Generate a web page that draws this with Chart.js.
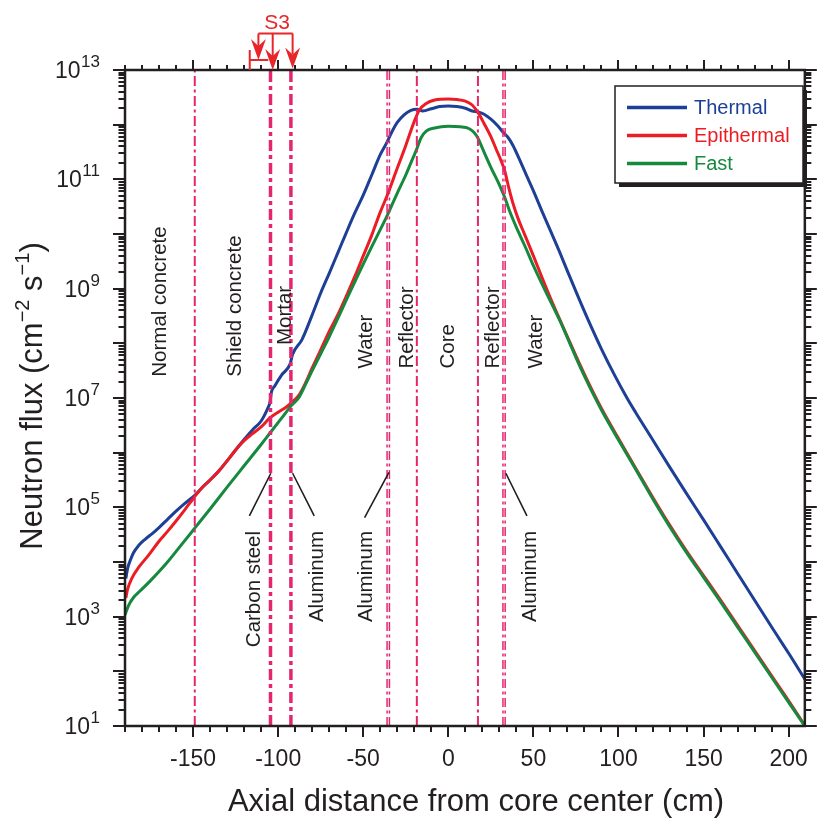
<!DOCTYPE html>
<html>
<head>
<meta charset="utf-8">
<script src="https://cdn.jsdelivr.net/npm/chart.js@4.4.1/dist/chart.umd.min.js"></script>
<style>
  html, body { margin: 0; padding: 0; background: #fff; }
  #wrap { width: 828px; height: 818px; }
</style>
</head>
<body>
<div id="wrap"><canvas id="fluxChart" width="828" height="818"></canvas></div>
<script>
// axial distance (cm) and neutron flux (cm^-2 s^-1)
const thermalX = [-189.5, -188.5, -187, -185, -182, -178, -174, -170, -165, -160, -155, -149, -145, -140, -135, -130, -125, -120, -115, -110, -106, -104.8, -104, -102, -98, -93, -91.5, -86, -80, -75, -70, -65, -60, -55, -50, -45, -40, -36, -33, -30, -26, -22, -18.5, -15, -10, -5, 0, 5, 10, 14, 17.5, 21, 25, 29, 32.5, 35, 38, 42, 46, 50, 55, 60, 65, 70, 77, 84, 91, 98, 105, 110, 120, 130, 140, 150, 160, 170, 180, 190, 200, 209.5];
const thermalFlux = [5.0e3, 7.59e3, 1.05e4, 1.48e4, 2.0e4, 2.63e4, 3.31e4, 4.27e4, 6.03e4, 8.51e4, 1.17e5, 1.66e5, 2.24e5, 3.16e5, 4.57e5, 7.08e5, 1.12e6, 1.74e6, 2.63e6, 3.8e6, 6.61e6, 8.32e6, 1.26e7, 1.66e7, 2.63e7, 4.17e7, 6.31e7, 1.17e8, 3.31e8, 8.32e8, 1.91e9, 4.47e9, 1.05e10, 2.4e10, 5.13e10, 1.2e11, 2.82e11, 4.79e11, 7.59e11, 1.1e12, 1.51e12, 1.82e12, 1.91e12, 1.78e12, 1.95e12, 2.14e12, 2.19e12, 2.14e12, 2.0e12, 1.78e12, 1.7e12, 1.55e12, 1.26e12, 9.55e11, 7.08e11, 5.89e11, 4.17e11, 2.24e11, 1.17e11, 6.17e10, 2.63e10, 1.15e10, 5.01e9, 2.09e9, 6.31e8, 2.0e8, 6.76e7, 2.51e7, 1.0e7, 5.5e6, 1.74e6, 5.5e5, 1.78e5, 5.89e4, 1.91e4, 6.17e3, 2.0e3, 646, 214, 72];

const epiX = [-189.5, -188.5, -186, -182, -176, -170, -165, -160, -155, -149, -145, -140, -135, -130, -125, -120, -115, -110, -105, -100, -95, -92, -88, -84, -80, -75, -70, -65, -60, -55, -50, -45, -40, -36, -31, -25, -20, -17, -13, -8, 0, 5, 10, 14, 17.5, 21, 25, 28, 31, 33, 35.5, 38, 41, 45, 50, 55, 60, 65, 70, 75, 80, 85, 90, 95, 100, 110, 120, 130, 140, 150, 160, 170, 180, 190, 200, 209.5];
const epiFlux = [2.19e3, 3.16e3, 5.01e3, 7.94e3, 1.35e4, 2.4e4, 3.63e4, 5.62e4, 8.91e4, 1.58e5, 2.24e5, 3.16e5, 4.57e5, 7.08e5, 1.12e6, 1.66e6, 2.24e6, 2.95e6, 4.27e6, 5.5e6, 6.92e6, 8.32e6, 1.1e7, 1.86e7, 3.55e7, 7.59e7, 1.66e8, 3.31e8, 7.24e8, 1.66e9, 3.98e9, 9.55e9, 2.51e10, 5.01e10, 1.32e11, 4.17e11, 1.15e12, 1.86e12, 2.45e12, 2.82e12, 2.95e12, 2.88e12, 2.69e12, 2.29e12, 1.66e12, 1.05e12, 6.03e11, 3.63e11, 2.19e11, 1.48e11, 7.08e10, 3.63e10, 1.91e10, 9.55e9, 3.98e9, 1.62e9, 6.76e8, 2.95e8, 1.32e8, 5.89e7, 2.69e7, 1.29e7, 6.46e6, 3.39e6, 1.82e6, 5.25e5, 1.55e5, 4.79e4, 1.58e4, 5.62e3, 2.0e3, 692, 240, 83, 29, 10.2];

const fastX = [-190, -188, -185, -181.5, -175, -165, -157, -149, -140, -130, -120, -110, -105, -98, -92, -88, -85, -80, -75, -70, -65, -60, -55, -50, -45, -40, -36, -30, -25, -22, -19, -16, -13, -8, 0, 7, 12, 15, 17.5, 20, 25, 30, 33, 36, 40, 45, 50, 57, 65, 70, 75, 80, 85, 90, 95, 100, 110, 120, 130, 140, 150, 160, 170, 180, 190, 200, 209.5];
const fastFlux = [1.07e3, 1.58e3, 2.24e3, 2.88e3, 4.57e3, 1.0e4, 2.04e4, 4.17e4, 9.33e4, 2.34e5, 5.75e5, 1.41e6, 2.24e6, 4.27e6, 7.41e6, 1.0e7, 1.51e7, 3.16e7, 6.46e7, 1.32e8, 2.82e8, 6.17e8, 1.32e9, 2.82e9, 5.89e9, 1.2e10, 2.14e10, 5.62e10, 1.2e11, 2.0e11, 3.31e11, 5.75e11, 7.59e11, 8.71e11, 9.33e11, 9.12e11, 8.51e11, 7.24e11, 5.62e11, 3.72e11, 1.66e11, 7.94e10, 4.79e10, 2.63e10, 1.32e10, 6.03e9, 2.63e9, 9.12e8, 2.82e8, 1.26e8, 5.5e7, 2.51e7, 1.2e7, 6.03e6, 3.16e6, 1.7e6, 5.01e5, 1.45e5, 4.47e4, 1.48e4, 5.25e3, 1.86e3, 646, 224, 78, 27, 10];

const seriesNames = ['Thermal', 'Epithermal', 'Fast'];

// material boundaries (cm)
const boundaryX = [-149, -104.5, -92.5, -36, -34.6, -18.5, 17.4, 32.1, 33.4];

const xTickValues = [-150, -100, -50, 0, 50, 100, 150, 200];
const yTickValues = [1e1, 1e3, 1e5, 1e7, 1e9, 1e11, 1e13];

const regionNames = ['Normal concrete', 'Shield concrete', 'Mortar', 'Water', 'Reflector', 'Core', 'Reflector', 'Water'];
const layerNames = ['Carbon steel', 'Aluminum', 'Aluminum', 'Aluminum'];

// ---- styling / placement ----
const FONT = '"Liberation Sans", Arial, Helvetica, sans-serif';
const INK = '#231f20';
const PINK = '#e5266d';
const S3_RED = '#e8262a';
const seriesColors = ['#1d3f96', '#ec1c24', '#15893e'];
const seriesOrder = [3, 2, 1]; // fast on top, thermal underneath

const boundaryStyles = [
  { w: 2, dash: [10, 3.5, 3, 3.5] },
  { w: 3.5, dash: [11, 4, 4, 4] },
  { w: 3.5, dash: [11, 4, 4, 4] },
  { w: 1.5, dash: [9, 3.5, 3, 3.5] },
  { w: 1.5, dash: [9, 3.5, 3, 3.5] },
  { w: 2, dash: [10, 3.5, 3, 3.5] },
  { w: 2, dash: [10, 3.5, 3, 3.5] },
  { w: 1.5, dash: [9, 3.5, 3, 3.5] },
  { w: 1.5, dash: [9, 3.5, 3, 3.5] },
];

// label anchors: baseline x (cm), start of text (flux) - text reads bottom to top
const regionAnchors = [
  { x: -165.9, y: 2.45e7 }, { x: -122.1, y: 2.45e7 }, { x: -92.7, y: 9.3e7 },
  { x: -45.0, y: 3.47e7 }, { x: -20.9, y: 3.47e7 }, { x: 3.1, y: 3.47e7 },
  { x: 29.6, y: 3.47e7 }, { x: 55.2, y: 3.47e7 },
];
// for the lower labels the anchor is where the text ends (its top)
const layerAnchors = [
  { x: -110.6, y: 3.7e4 }, { x: -73.4, y: 3.7e4 }, { x: -44.8, y: 3.7e4 }, { x: 51.6, y: 3.7e4 },
];
const pointerLines = [
  [-104.3, 4.2e5, -116.9, 6.95e4],
  [-91.5, 4.2e5, -78.8, 6.95e4],
  [-34.9, 4.37e5, -49.2, 6.45e4],
  [33.8, 4.2e5, 46.2, 6.95e4],
];

function toPoints(xs, ys) {
  return xs.map((x, i) => ({ x: x, y: ys[i] }));
}

const boundarySets = boundaryX.map((bx, i) => ({
  label: 'boundary' + i,
  data: [{ x: bx, y: 10 }, { x: bx, y: 1e13 }],
  borderColor: PINK,
  borderWidth: boundaryStyles[i].w,
  borderDash: boundaryStyles[i].dash,
  pointRadius: 0,
  tension: 0,
  fill: false,
  order: 0,
}));

const curveSets = [
  toPoints(thermalX, thermalFlux),
  toPoints(epiX, epiFlux),
  toPoints(fastX, fastFlux),
].map((pts, i) => ({
  label: seriesNames[i],
  data: pts,
  borderColor: seriesColors[i],
  borderWidth: 3,
  pointRadius: 0,
  cubicInterpolationMode: 'monotone',
  fill: false,
  order: seriesOrder[i],
}));

function drawRotated(ctx, text, px, py, align) {
  ctx.save();
  ctx.translate(px, py);
  ctx.rotate(-Math.PI / 2);
  ctx.textAlign = align;
  ctx.textBaseline = 'alphabetic';
  ctx.fillText(text, 0, 0);
  ctx.restore();
}

function arrowDown(ctx, tx, ty) {
  ctx.beginPath();
  ctx.moveTo(tx, ty);
  ctx.lineTo(tx - 7.5, ty - 21);
  ctx.lineTo(tx, ty - 14);
  ctx.lineTo(tx + 7.5, ty - 21);
  ctx.closePath();
  ctx.fill();
}

const decorPlugin = {
  id: 'decor',
  afterDraw(chart) {
    const { ctx, chartArea: a, scales: { x, y } } = chart;
    ctx.save();

    // frame
    ctx.strokeStyle = INK;
    ctx.lineWidth = 2.5;
    ctx.strokeRect(a.left, a.top, a.right - a.left, a.bottom - a.top);

    // tick marks, outward on all four sides
    ctx.lineWidth = 2;
    ctx.beginPath();
    for (let v = -190; v <= 209.5; v += 10) {
      const px = Math.round(x.getPixelForValue(v));
      const major = v % 50 === 0;
      ctx.moveTo(px, a.bottom); ctx.lineTo(px, a.bottom + (major ? 11 : 6));
      ctx.moveTo(px, a.top); ctx.lineTo(px, a.top - (major ? 10 : 5));
    }
    for (let e = 1; e <= 13; e++) {
      for (let m = 1; m <= 9; m++) {
        if (e === 13 && m > 1) break;
        const py = Math.round(y.getPixelForValue(m * Math.pow(10, e)));
        const len = m === 1 ? 12 : 6.5;
        ctx.moveTo(a.left, py); ctx.lineTo(a.left - len, py);
        ctx.moveTo(a.right, py); ctx.lineTo(a.right + len, py);
      }
    }
    ctx.stroke();

    // y tick labels 10^n
    ctx.fillStyle = INK;
    ctx.textBaseline = 'alphabetic';
    yTickValues.forEach(v => {
      const py = y.getPixelForValue(v);
      const exp = String(Math.round(Math.log10(v)));
      ctx.font = '17px ' + FONT;
      const ew = ctx.measureText(exp).width;
      ctx.textAlign = 'right';
      ctx.fillText(exp, 100, py - 3);
      ctx.font = '23px ' + FONT;
      ctx.fillText('10', 100 - ew - 0.5, py + 8);
    });

    // axis titles
    ctx.font = '31px ' + FONT;
    ctx.textAlign = 'center';
    ctx.fillText('Axial distance from core center (cm)', 476, 811);

    ctx.save();
    ctx.translate(42, 396);
    ctx.rotate(-Math.PI / 2);
    const runs = [['Neutron flux (cm', false], ['\u22122', true], [' s', false], ['\u22121', true], [')', false]];
    let total = 0;
    runs.forEach(r => {
      ctx.font = (r[1] ? '20px ' : '31px ') + FONT;
      total += ctx.measureText(r[0]).width;
    });
    let cx = -total / 2;
    ctx.textAlign = 'left';
    runs.forEach(r => {
      ctx.font = (r[1] ? '20px ' : '31px ') + FONT;
      ctx.fillText(r[0], cx, r[1] ? -13 : 0);
      cx += ctx.measureText(r[0]).width;
    });
    ctx.restore();

    // region labels
    ctx.font = '20.5px ' + FONT;
    ctx.fillStyle = INK;
    regionNames.forEach((t, i) => {
      const p = regionAnchors[i];
      drawRotated(ctx, t, x.getPixelForValue(p.x), y.getPixelForValue(p.y), 'left');
    });
    layerNames.forEach((t, i) => {
      const p = layerAnchors[i];
      drawRotated(ctx, t, x.getPixelForValue(p.x), y.getPixelForValue(p.y), 'right');
    });
    ctx.strokeStyle = INK;
    ctx.lineWidth = 1.6;
    ctx.beginPath();
    pointerLines.forEach(l => {
      ctx.moveTo(x.getPixelForValue(l[0]), y.getPixelForValue(l[1]));
      ctx.lineTo(x.getPixelForValue(l[2]), y.getPixelForValue(l[3]));
    });
    ctx.stroke();

    // legend box with drop shadow
    const lx = 615, ly = 86, lw = 188, lh = 97;
    ctx.fillStyle = INK;
    ctx.fillRect(lx + 4, ly + 4, lw, lh);
    ctx.fillStyle = '#fff';
    ctx.fillRect(lx, ly, lw, lh);
    ctx.strokeStyle = INK;
    ctx.lineWidth = 1.5;
    ctx.strokeRect(lx, ly, lw, lh);
    ctx.font = '20px ' + FONT;
    ctx.textAlign = 'left';
    ctx.textBaseline = 'middle';
    seriesNames.forEach((n, i) => {
      const ry = 107.5 + i * 28;
      ctx.strokeStyle = seriesColors[i];
      ctx.lineWidth = 3.5;
      ctx.beginPath();
      ctx.moveTo(627, ry); ctx.lineTo(687, ry);
      ctx.stroke();
      ctx.fillStyle = seriesColors[i];
      ctx.fillText(n, 694, ry + 1);
    });

    // S3 marker above the frame
    const sx = v => x.getPixelForValue(v);
    ctx.fillStyle = S3_RED;
    ctx.strokeStyle = S3_RED;
    ctx.font = '21px ' + FONT;
    ctx.textAlign = 'center';
    ctx.textBaseline = 'alphabetic';
    ctx.fillText('S3', 277, 28.5);
    ctx.lineWidth = 2;
    const bL = sx(-111.6), bM = sx(-103.2), bR = sx(-91.5);
    ctx.beginPath();
    ctx.moveTo(bL, 33.5); ctx.lineTo(bR, 33.5);
    ctx.moveTo(bL, 33.5); ctx.lineTo(bL, 46);
    ctx.moveTo(bM, 33.5); ctx.lineTo(bM, 56);
    ctx.moveTo(bR, 33.5); ctx.lineTo(bR, 54);
    ctx.moveTo(sx(-116.7), 50); ctx.lineTo(sx(-116.7), 70);
    ctx.moveTo(sx(-116.7), 60); ctx.lineTo(sx(-105.8), 60);
    ctx.stroke();
    arrowDown(ctx, bL, 60);
    arrowDown(ctx, bM, 70);
    arrowDown(ctx, bR, 68.5);

    ctx.restore();
  },
};

new Chart(document.getElementById('fluxChart'), {
  type: 'line',
  data: { datasets: boundarySets.concat(curveSets) },
  options: {
    responsive: false,
    devicePixelRatio: 1,
    animation: false,
    layout: { padding: { top: 70, right: 6, left: 0, bottom: 0 } },
    plugins: { legend: { display: false }, tooltip: { enabled: false } },
    scales: {
      x: {
        type: 'linear',
        min: -190,
        max: 209.5,
        grid: { display: false, drawTicks: false },
        border: { display: false },
        ticks: {
          color: INK,
          font: { family: FONT, size: 23 },
          padding: 20,
          maxRotation: 0,
          autoSkip: false,
        },
        afterBuildTicks: s => { s.ticks = xTickValues.map(v => ({ value: v })); },
        afterFit: s => { s.height = 92; },
      },
      y: {
        type: 'logarithmic',
        min: 10,
        max: 1e13,
        grid: { display: false, drawTicks: false },
        border: { display: false },
        ticks: { display: false },
        afterFit: s => { s.width = 125; },
      },
    },
  },
  plugins: [decorPlugin],
});
</script>
</body>
</html>
